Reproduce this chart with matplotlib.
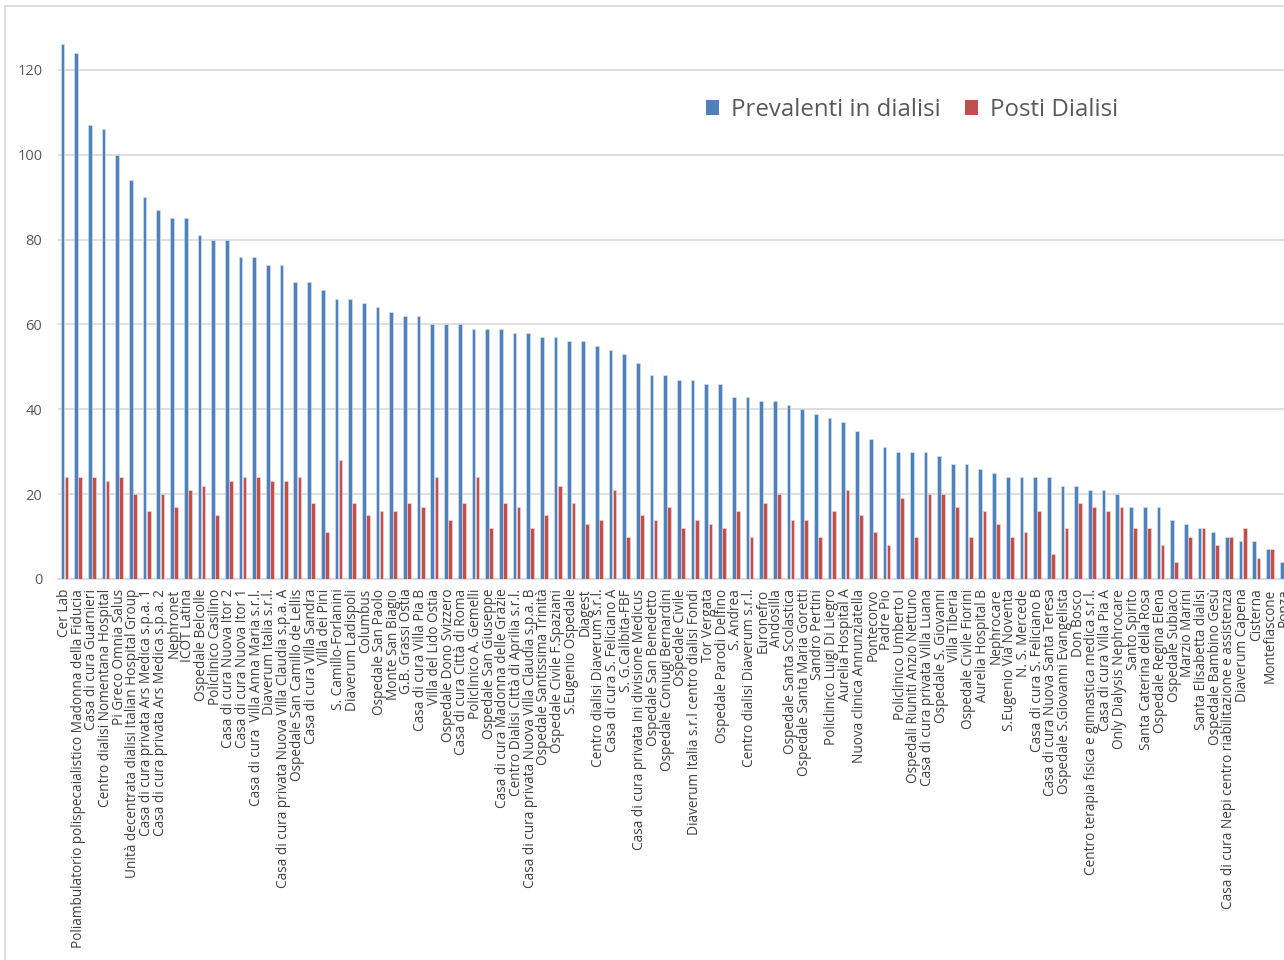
import matplotlib
matplotlib.use("Agg")
import matplotlib.pyplot as plt
import numpy as np
from matplotlib.lines import Line2D
from matplotlib.patches import Patch

plt.rcParams['font.family'] = ['Open Sans', 'DejaVu Sans']

centri = [
    "Cer Lab",
    "Poliambulatorio polispecaialistico Madonna della Fiducia",
    "Casa di cura Guarnieri",
    "Centro dialisi Nomentana Hospital",
    "Pi Greco Omnia Salus",
    "Unità decentrata dialisi Italian Hospital Group",
    "Casa di cura privata Ars Medica s.p.a. 1",
    "Casa di cura privata Ars Medica s.p.a. 2",
    "Nephronet",
    "ICOT Latina",
    "Ospedale Belcolle",
    "Policlinico Casilino",
    "Casa di cura Nuova Itor 2",
    "Casa di cura Nuova Itor 1",
    "Casa di cura  Villa Anna Maria s.r.l.",
    "Diaverum Italia s.r.l.",
    "Casa di cura privata Nuova Villa Claudia s.p.a. A",
    "Ospedale San Camillo de Lellis",
    "Casa di cura Villa Sandra",
    "Villa dei Pini",
    "S. Camillo-Forlanini",
    "Diaverum Ladispoli",
    "Columbus",
    "Ospedale San Paolo",
    "Monte San Biagio",
    "G.B. Grassi Ostia",
    "Casa di cura Villa Pia B",
    "Villa del Lido Ostia",
    "Ospedale Dono Svizzero",
    "Casa di cura Città di Roma",
    "Policlinico A. Gemelli",
    "Ospedale San Giuseppe",
    "Casa di cura Madonna delle Grazie",
    "Centro Dialisi Città di Aprilia s.r.l.",
    "Casa di cura privata Nuova Villa Claudia s.p.a. B",
    "Ospedale Santissima Trinità",
    "Ospedale Civile F.Spaziani",
    "S.Eugenio Ospedale",
    "Diagest",
    "Centro dialisi Diaverum s.r.l.",
    "Casa di cura S. Feliciano A",
    "S. G.Calibita-FBF",
    "Casa di cura privata Ini divisione Medicus",
    "Ospedale San Benedetto",
    "Ospedale Coniugi Bernardini",
    "Ospedale Civile",
    "Diaverum Italia s.r.l centro dialisi Fondi",
    "Tor Vergata",
    "Ospedale Parodi Delfino",
    "S. Andrea",
    "Centro dialisi Diaverum s.r.l.",
    "Euronefro",
    "Andosilla",
    "Ospedale Santa Scolastica",
    "Ospedale Santa Maria Goretti",
    "Sandro Pertini",
    "Policlinico Luigi Di Liegro",
    "Aurelia Hospital A",
    "Nuova clinica Annunziatella",
    "Pontecorvo",
    "Padre Pio",
    "Policlinico Umberto I",
    "Ospedali Riuniti Anzio Nettuno",
    "Casa di cura privata Villa Luana",
    "Ospedale S. Giovanni",
    "Villa Tiberia",
    "Ospedale Civile Fiorini",
    "Aurelia Hospital B",
    "Nephrocare",
    "S.Eugenio Via Noventa",
    "N. S. Mercede",
    "Casa di cura S. Feliciano B",
    "Casa di cura Nuova Santa Teresa",
    "Ospedale S.Giovanni Evangelista",
    "Don Bosco",
    "Centro terapia fisica e ginnastica medica s.r.l.",
    "Casa di cura Villa Pia A",
    "Only Dialysis Nephrocare",
    "Santo Spirito",
    "Santa Caterina della Rosa",
    "Ospedale Regina Elena",
    "Ospedale Subiaco",
    "Marzio Marini",
    "Santa Elisabetta dialisi",
    "Ospedale Bambino Gesù",
    "Casa di cura Nepi centro riabilitazione e assistenza",
    "Diaverum Capena",
    "Cisterna",
    "Montefiascone",
    "Ponza",
]

prevalenti = [126, 124, 107, 106, 100, 94, 90, 87, 85, 85,
              81, 80, 80, 76, 76, 74, 74, 70, 70, 68,
              66, 66, 65, 64, 63, 62, 62, 60, 60, 60,
              59, 59, 59, 58, 58, 57, 57, 56, 56, 55,
              54, 53, 51, 48, 48, 47, 47, 46, 46, 43,
              43, 42, 42, 41, 40, 39, 38, 37, 35, 33,
              31, 30, 30, 30, 29, 27, 27, 26, 25, 24,
              24, 24, 24, 22, 22, 21, 21, 20, 17, 17,
              17, 14, 13, 12, 11, 10, 9, 9, 7, 4]

posti = [24, 24, 24, 23, 24, 20, 16, 20, 17, 21,
         22, 15, 23, 24, 24, 23, 23, 24, 18, 11,
         28, 18, 15, 16, 16, 18, 17, 24, 14, 18,
         24, 12, 18, 17, 12, 15, 22, 18, 13, 14,
         21, 10, 15, 14, 17, 12, 14, 13, 12, 16,
         10, 18, 20, 14, 14, 10, 16, 21, 15, 11,
         8, 19, 10, 20, 20, 17, 10, 16, 13, 10,
         11, 16, 6, 12, 18, 17, 16, 17, 12, 12,
         8, 4, 10, 12, 8, 10, 12, 5, 7, 4]

serie = ["Prevalenti in dialisi", "Posti Dialisi"]
blu = "#4F81BD"
rosso = "#C0504D"

W, H = 1284, 960
fig = plt.figure(figsize=(W / 100, H / 100), dpi=100)
# plot area runs past the right and top edge (the original picture is cropped)
ax = fig.add_axes([57.6 / W, 381 / H, 1233 / W, 594 / H])

x = np.arange(len(centri))
ax.bar(x - 0.15, prevalenti, width=0.27, color=blu, edgecolor="#DCE6F2", linewidth=0.4, zorder=3)
ax.bar(x + 0.15, posti, width=0.27, color=rosso, edgecolor="#F2DCDB", linewidth=0.4, zorder=3)

ax.set_xlim(-0.5, len(centri) - 0.5)
ax.set_ylim(0, 140)
ax.set_yticks(range(0, 121, 20))
ax.yaxis.grid(True, color="#D9D9D9", linewidth=1.2, zorder=0)
ax.axhline(140, color="#D9D9D9", linewidth=1.2, zorder=0)
ax.set_axisbelow(True)
for s in ["left", "right", "top"]:
    ax.spines[s].set_visible(False)
ax.spines["bottom"].set_color("#D9D9D9")
ax.spines["bottom"].set_linewidth(1.2)

ax.set_xticks(x)
ax.set_xticklabels(centri, rotation=90, fontsize=9.85, color="#404040")
ax.tick_params(axis="x", length=0, pad=7)
ax.tick_params(axis="y", length=0, pad=11, labelsize=10.5, labelcolor="#595959")

maniglie = [Patch(facecolor=blu), Patch(facecolor=rosso)]
fig.legend(maniglie, serie, loc="center left", bbox_to_anchor=(706 / W, 1 - 110 / H),
           frameon=False, fontsize=17.3, labelcolor="#595959",
           handlelength=0.55, handleheight=0.55, handletextpad=0.5,
           columnspacing=1.0, ncol=2, borderpad=0, borderaxespad=0)

# chart area border
fig.add_artist(Line2D([5 / W, 5 / W], [0, 1 - 6 / H], color="#D9D9D9", linewidth=1.2))
fig.add_artist(Line2D([5 / W, 1], [1 - 6 / H, 1 - 6 / H], color="#D9D9D9", linewidth=1.2))

fig.savefig("out.png", dpi=100)
